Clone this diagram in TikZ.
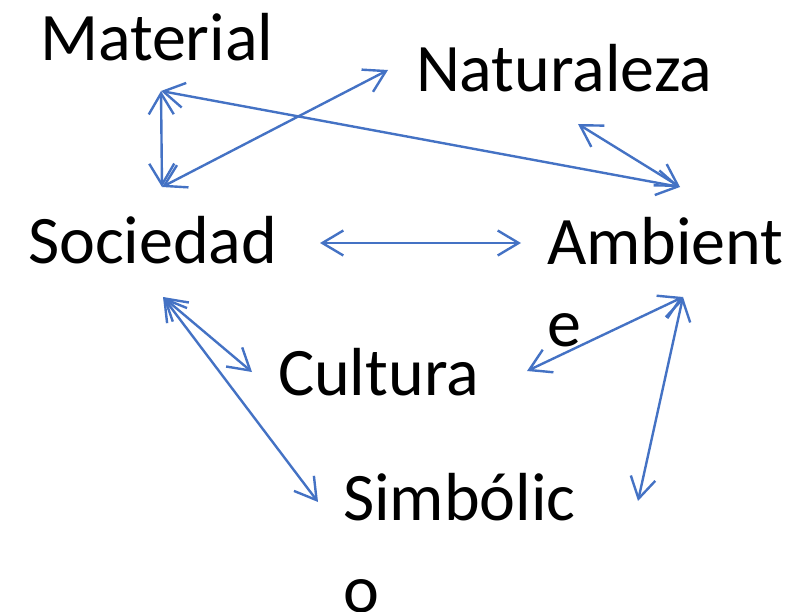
\documentclass[tikz,border=0pt]{standalone}
\usepackage{fontspec}
\setmainfont{Carlito}
\usetikzlibrary{arrows.meta}
\definecolor{officeblue}{HTML}{4472C4}
\begin{document}
\begin{tikzpicture}[x=1pt,y=-1pt,
  lbl/.style={inner sep=0pt,outer sep=0pt,anchor=base west,align=left,font=\fontsize{68}{82}\selectfont},
  link/.style={officeblue,line width=2.4pt,{Straight Barb[length=21pt,width=25pt,line width=2.4pt]}-{Straight Barb[length=21pt,width=25pt,line width=2.4pt]}}]
\useasboundingbox (0,0) rectangle (800,612);
% labels (multi-line nodes are anchored at the baseline of their last line)
\node[lbl] (material) at (40,61) {Material};
\node[lbl] (naturaleza) at (416,92) {Naturaleza};
\node[lbl] (sociedad) at (28,264) {Sociedad};
\node[lbl] (ambiente) at (547,346) {Ambient\\e};
\node[lbl] (cultura) at (278,395) {Cultura};
\node[lbl] (simbolico) at (343,612) {Simbólic\\[10pt]o};
% arrow end points
\coordinate (mat) at (161,91);
\coordinate (socT) at (162,187);
\coordinate (natL) at (388,70);
\coordinate (natB) at (578,124);
\coordinate (ambT) at (680,187);
\coordinate (socR) at (320,243);
\coordinate (ambL) at (521,243);
\coordinate (socB) at (163,297);
\coordinate (culL) at (252,372);
\coordinate (simL) at (318,502);
\coordinate (culR) at (527,371);
\coordinate (ambB) at (683,297);
\coordinate (simR) at (638,501);
% connectors
\draw[link] (mat) -- (socT);
\draw[link] (socT) -- (natL);
\draw[link] (mat) -- (ambT);
\draw[link] (natB) -- (ambT);
\draw[link] (socR) -- (ambL);
\draw[link] (socB) -- (culL);
\draw[link] (socB) -- (simL);
\draw[link] (culR) -- (ambB);
\draw[link] (ambB) -- (simR);
\end{tikzpicture}
\end{document}
